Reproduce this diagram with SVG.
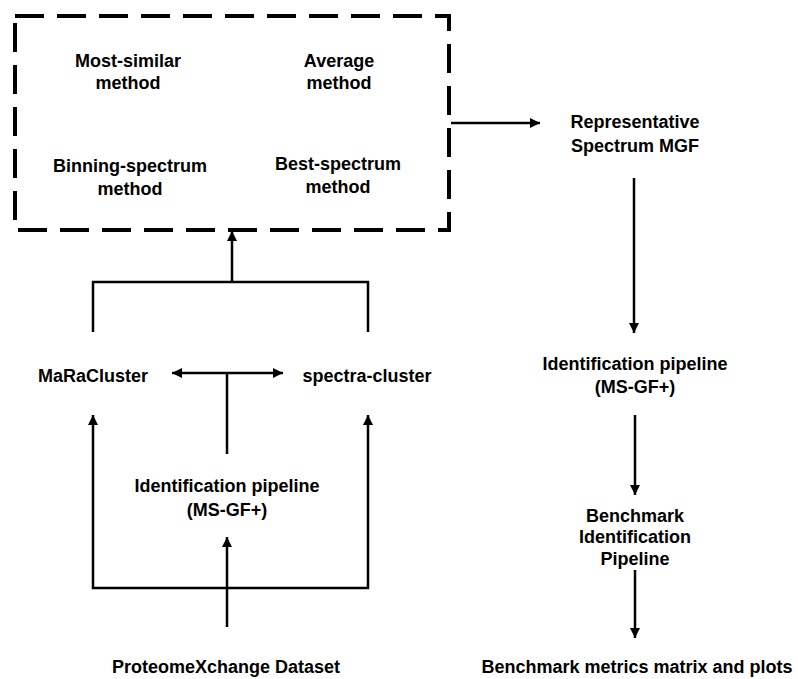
<svg xmlns="http://www.w3.org/2000/svg" width="798" height="679" viewBox="0 0 798 679">
  <style>
    text { font-family: "Liberation Sans", Arial, sans-serif; font-weight: bold; font-size: 18px; fill: #000; text-anchor: middle; }
    .ln { fill: none; stroke: #000; stroke-width: 2.5; }
    .dash { fill: none; stroke: #000; stroke-width: 4; stroke-dasharray: 29 13; }
  </style>
  <defs>
    <marker id="ah" viewBox="0 0 10 10" refX="10" refY="5" markerWidth="11" markerHeight="10" markerUnits="userSpaceOnUse" orient="auto-start-reverse">
      <path d="M0,0 L10,5 L0,10 Z" fill="#000"/>
    </marker>
  </defs>
  <rect width="798" height="679" fill="#fff"/>

  <g id="methods-box">
    <rect class="dash" x="15" y="16" width="434" height="214"/>
  </g>
  <g id="most-similar"><text x="128" y="67">Most-similar</text><text x="128" y="89">method</text></g>
  <g id="average"><text x="339" y="67">Average</text><text x="339" y="89">method</text></g>
  <g id="binning"><text x="130" y="172">Binning-spectrum</text><text x="130" y="195">method</text></g>
  <g id="best"><text x="338" y="170">Best-spectrum</text><text x="338" y="193">method</text></g>

  <g id="representative"><text x="635" y="128">Representative</text><text x="635" y="152">Spectrum MGF</text></g>
  <g id="id-pipeline-right"><text x="635" y="370">Identification pipeline</text><text x="635" y="393">(MS-GF+)</text></g>
  <g id="benchmark-pipeline"><text x="635" y="522">Benchmark</text><text x="635" y="543">Identification</text><text x="635" y="565">Pipeline</text></g>
  <g id="metrics"><text x="637" y="673">Benchmark metrics matrix and plots</text></g>

  <g id="maracluster"><text x="93" y="382">MaRaCluster</text></g>
  <g id="spectra-cluster"><text x="367" y="382">spectra-cluster</text></g>
  <g id="id-pipeline-left"><text x="227" y="492">Identification pipeline</text><text x="227" y="516">(MS-GF+)</text></g>
  <g id="proteomexchange"><text x="226" y="673">ProteomeXchange Dataset</text></g>

  <g id="connectors">
    <line class="ln" x1="451" y1="123" x2="540" y2="123" marker-end="url(#ah)"/>
    <line class="ln" x1="634" y1="178" x2="634" y2="333" marker-end="url(#ah)"/>
    <line class="ln" x1="635" y1="415" x2="635" y2="495" marker-end="url(#ah)"/>
    <line class="ln" x1="635" y1="570" x2="635" y2="638" marker-end="url(#ah)"/>

    <path class="ln" d="M93,332 V282 H368 V332"/>
    <line class="ln" x1="232" y1="282" x2="232" y2="231" marker-end="url(#ah)"/>

    <line class="ln" x1="172" y1="373" x2="283" y2="373" marker-start="url(#ah)" marker-end="url(#ah)"/>
    <line class="ln" x1="227" y1="373" x2="227" y2="454"/>

    <path class="ln" d="M227,588 H93 V415" marker-end="url(#ah)"/>
    <path class="ln" d="M227,588 H368 V415" marker-end="url(#ah)"/>
    <line class="ln" x1="227" y1="627" x2="227" y2="537" marker-end="url(#ah)"/>
  </g>
</svg>
